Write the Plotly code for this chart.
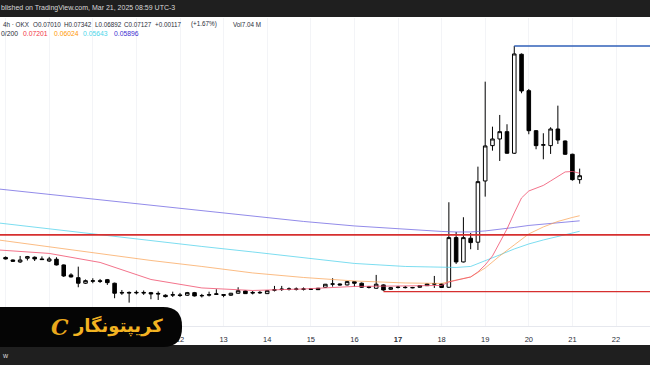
import plotly.graph_objects as go
import pandas as pd

# ---------------- data ----------------
candle_start = "2025-03-08 00:00"
n_candles = 80
opens = [0.05056, 0.05002, 0.04961, 0.05039, 0.05060, 0.05024, 0.04981, 0.05017, 0.04899, 0.04698,
         0.04644, 0.04537, 0.04574, 0.04584, 0.04605, 0.04537, 0.04365, 0.04365, 0.04356, 0.04365,
         0.04361, 0.04347, 0.04314, 0.04316, 0.04320, 0.04314, 0.04361, 0.04310, 0.04316, 0.04329,
         0.04325, 0.04314, 0.04350, 0.04392, 0.04365, 0.04356, 0.04343, 0.04406, 0.04419, 0.04425,
         0.04429, 0.04423, 0.04429, 0.04442, 0.04461, 0.04520, 0.04523, 0.04505, 0.04567, 0.04537,
         0.04457, 0.04442, 0.04505, 0.04423, 0.04457, 0.04461, 0.04457, 0.04461, 0.04491, 0.04520,
         0.04523, 0.04461, 0.05495, 0.04961, 0.05481, 0.05390, 0.06971, 0.08086, 0.08316, 0.08575,
         0.07832, 0.11870, 0.10186, 0.08610, 0.08100, 0.08086, 0.08672, 0.08246, 0.07799, 0.07010]
highs = [0.05077, 0.05013, 0.05088, 0.05088, 0.05077, 0.05077, 0.05067, 0.05060, 0.04909, 0.04731,
         0.04864, 0.04609, 0.04633, 0.04619, 0.04619, 0.04548, 0.04410, 0.04383, 0.04401, 0.04401,
         0.04374, 0.04383, 0.04329, 0.04379, 0.04356, 0.04374, 0.04374, 0.04338, 0.04379, 0.04423,
         0.04329, 0.04356, 0.04461, 0.04401, 0.04392, 0.04392, 0.04405, 0.04486, 0.04486, 0.04457,
         0.04457, 0.04457, 0.04438, 0.04448, 0.04523, 0.04633, 0.04533, 0.04576, 0.04576, 0.04552,
         0.04486, 0.04698, 0.04514, 0.04467, 0.04486, 0.04486, 0.04467, 0.04499, 0.04533, 0.04678,
         0.04533, 0.06375, 0.05627, 0.05986, 0.05604, 0.07403, 0.10579, 0.08757, 0.09199, 0.08846,
         0.12291, 0.11910, 0.10259, 0.08635, 0.08518, 0.08735, 0.09565, 0.08263, 0.07816, 0.07342]
lows = [0.05013, 0.04961, 0.04940, 0.04992, 0.04981, 0.05002, 0.04961, 0.04889, 0.04658, 0.04648,
        0.04461, 0.04523, 0.04537, 0.04542, 0.04505, 0.04260, 0.04320, 0.04182, 0.04329, 0.04320,
        0.04242, 0.04229, 0.04274, 0.04283, 0.04283, 0.04301, 0.04292, 0.04274, 0.04292, 0.04320,
        0.04278, 0.04301, 0.04341, 0.04338, 0.04329, 0.04338, 0.04338, 0.04383, 0.04392, 0.04401,
        0.04401, 0.04401, 0.04410, 0.04410, 0.04448, 0.04472, 0.04495, 0.04495, 0.04472, 0.04448,
        0.04438, 0.04433, 0.04397, 0.04410, 0.04438, 0.04438, 0.04442, 0.04452, 0.04486, 0.04448,
        0.04448, 0.04448, 0.04920, 0.04951, 0.05233, 0.05217, 0.06527, 0.07917, 0.07582, 0.07816,
        0.07809, 0.10076, 0.08482, 0.07964, 0.07636, 0.07809, 0.08144, 0.07777, 0.06980, 0.06892]
closes = [0.05024, 0.04975, 0.05002, 0.05073, 0.05024, 0.05011, 0.05024, 0.04899, 0.04678, 0.04658,
          0.04537, 0.04586, 0.04584, 0.04574, 0.04548, 0.04350, 0.04356, 0.04356, 0.04365, 0.04356,
          0.04338, 0.04338, 0.04289, 0.04323, 0.04310, 0.04361, 0.04301, 0.04305, 0.04323, 0.04338,
          0.04314, 0.04350, 0.04397, 0.04343, 0.04356, 0.04365, 0.04397, 0.04414, 0.04425, 0.04429,
          0.04423, 0.04429, 0.04423, 0.04416, 0.04518, 0.04523, 0.04505, 0.04567, 0.04537, 0.04461,
          0.04467, 0.04518, 0.04410, 0.04453, 0.04463, 0.04455, 0.04452, 0.04491, 0.04523, 0.04527,
          0.04457, 0.05495, 0.04961, 0.05495, 0.05381, 0.06951, 0.08076, 0.08316, 0.08575, 0.07832,
          0.11885, 0.10173, 0.08610, 0.08086, 0.08117, 0.08672, 0.08280, 0.07799, 0.07010, 0.07127]

ma_times = ["2025-03-07 20:00", "2025-03-09 00:00", "2025-03-10 04:00", "2025-03-11 08:00",
            "2025-03-12 12:00", "2025-03-13 16:00", "2025-03-14 20:00", "2025-03-16 00:00",
            "2025-03-17 04:00", "2025-03-18 00:00", "2025-03-18 08:00", "2025-03-18 16:00",
            "2025-03-19 00:00", "2025-03-19 08:00", "2025-03-19 16:00", "2025-03-20 00:00",
            "2025-03-20 08:00", "2025-03-20 16:00", "2025-03-21 00:00", "2025-03-21 04:00"]
ma200 = [0.06741, 0.06588, 0.06436, 0.06290, 0.06146, 0.06006, 0.05881, 0.05771, 0.05686, 0.05639,
         0.05627, 0.05627, 0.05651, 0.05686, 0.05735, 0.05783, 0.05820, 0.05856, 0.05893, 0.05896]
ma100 = [0.05844, 0.05698, 0.05558, 0.05430, 0.05295, 0.05174, 0.05045, 0.04930, 0.04868, 0.04848,
         0.04848, 0.04868, 0.04981, 0.05110, 0.05239, 0.05351, 0.05441, 0.05523, 0.05600, 0.05643]
ma50 = [0.05441, 0.05284, 0.05131, 0.04992, 0.04868, 0.04737, 0.04648, 0.04580, 0.04542, 0.04533,
        0.04599, 0.04658, 0.04837, 0.05088, 0.05329, 0.05581, 0.05747, 0.05881, 0.05981, 0.06024]
ma20_times = ["2025-03-07 20:00", "2025-03-09 00:00", "2025-03-10 04:00", "2025-03-11 08:00",
              "2025-03-12 12:00", "2025-03-13 16:00", "2025-03-14 20:00", "2025-03-16 00:00",
              "2025-03-17 04:00", "2025-03-18 00:00", "2025-03-18 04:00", "2025-03-18 08:00",
              "2025-03-18 12:00", "2025-03-18 16:00", "2025-03-18 20:00", "2025-03-19 00:00",
              "2025-03-19 04:00", "2025-03-19 08:00", "2025-03-19 12:00", "2025-03-19 16:00",
              "2025-03-19 20:00", "2025-03-20 00:00", "2025-03-20 04:00", "2025-03-20 08:00",
              "2025-03-20 12:00", "2025-03-20 16:00", "2025-03-20 20:00", "2025-03-21 00:00",
              "2025-03-21 04:00"]
ma20 = [0.05217, 0.05142, 0.04951, 0.04609, 0.04448, 0.04401, 0.04429, 0.04476, 0.04486, 0.04495,
        0.04561, 0.04590, 0.04629, 0.04658, 0.04757, 0.04899, 0.05088, 0.05374, 0.05698, 0.06095,
        0.06491, 0.06684, 0.06755, 0.06842, 0.06971, 0.07105, 0.07240, 0.07255, 0.07201]

level_prices = [0.05558, 0.04379, 0.12291]
level_starts = ["2025-03-07 00:00", "2025-03-16 16:00", "2025-03-19 16:00"]
level_end = "2025-03-24 00:00"

tick_dates = ["2025-03-%02d" % d for d in range(8, 23)]
tick_labels = [str(d) for d in range(8, 23)]

# ---------------- layout helpers ----------------
W, H = 650, 365
ML, MR, MT, MB = 0, 0, 18, 39
PW, PH = W - ML - MR, H - MT - MB


def px(x):
    return (x - ML) / PW


def py(y):
    return (H - MB - y) / PH


times = pd.date_range(candle_start, periods=n_candles, freq="4h")

fig = go.Figure()

ma_styles = [
    (ma_times, ma200, "rgba(110,100,225,0.75)"),
    (ma_times, ma100, "rgba(80,210,235,0.75)"),
    (ma_times, ma50, "rgba(250,160,80,0.7)"),
    (ma20_times, ma20, "rgba(240,80,110,0.8)"),
]
for t, v, c in ma_styles:
    fig.add_trace(go.Scatter(x=t, y=v, mode="lines", line=dict(color=c, width=1),
                             hoverinfo="skip"))

level_styles = [("#d62f2f", 1.6), ("#d62f2f", 1.4), ("#3061b8", 1.4)]
for p, s, (c, w) in zip(level_prices, level_starts, level_styles):
    fig.add_trace(go.Scatter(x=[s, level_end], y=[p, p], mode="lines",
                             line=dict(color=c, width=w), hoverinfo="skip"))

fig.add_trace(go.Candlestick(
    x=times, open=opens, high=highs, low=lows, close=closes,
    increasing=dict(line=dict(color="#000000", width=1), fillcolor="#ffffff"),
    decreasing=dict(line=dict(color="#000000", width=1), fillcolor="#000000"),
    whiskerwidth=0, hoverinfo="skip"))

ticktext = ["<b>%s</b>" % s if s == "17" else s for s in tick_labels]

fig.update_layout(
    width=W, height=H, margin=dict(l=ML, r=MR, t=MT, b=MB),
    paper_bgcolor="white", plot_bgcolor="white", showlegend=False,
    xaxis=dict(type="date", range=["2025-03-07 20:55", "2025-03-22 18:43"],
               rangeslider=dict(visible=False), tickvals=tick_dates, ticktext=ticktext,
               showgrid=True, gridcolor="#f3f4f7", gridwidth=1, ticks="",
               tickfont=dict(size=7.5, color="#2a2e39", family="Liberation Sans"),
               showline=True, linecolor="#e6e8ee", zeroline=False, ticklabelstandoff=6),
    yaxis=dict(type="log", range=[-1.42126, -0.85943], showticklabels=False,
               showgrid=False, zeroline=False),
)

bar_color = "#1f1f1f"
shapes = [
    dict(type="rect", xref="paper", yref="paper", x0=0, x1=1, y0=py(17), y1=py(0),
         fillcolor=bar_color, line=dict(width=0), layer="above"),
    dict(type="rect", xref="paper", yref="paper", x0=0, x1=1, y0=py(H), y1=py(345),
         fillcolor=bar_color, line=dict(width=0), layer="above"),
]
# logo badge (rounded right side)
x0, x1, yt, yb, r = -20, 182, 307, 347, 19
path = ("M %f,%f L %f,%f Q %f,%f %f,%f L %f,%f Q %f,%f %f,%f L %f,%f Z" % (
    px(x0), py(yt), px(x1 - r), py(yt), px(x1), py(yt), px(x1), py(yt + r),
    px(x1), py(yb - r), px(x1), py(yb), px(x1 - r), py(yb), px(x0), py(yb)))
shapes.append(dict(type="path", xref="paper", yref="paper", path=path,
                   fillcolor="#050505", line=dict(width=0), layer="above"))
fig.update_layout(shapes=shapes)

ann = []


def text(x, y, s, color, size=7, anchor="left", family="Liberation Sans"):
    ann.append(dict(x=px(x), y=py(y), xref="paper", yref="paper", text=s, showarrow=False,
                    xanchor=anchor, yanchor="middle",
                    font=dict(size=size, color=color, family=family)))


text(-1, 8.5, "blished on TradingView.com, Mar 21, 2025 08:59 UTC-3", "#d8d8d8", 7)
dark = "#2a2e39"
s1 = 6.3
text(1, 24.5, "4h · OKX", dark, s1)
text(31, 24.5, "O0.07010", dark, s1)
text(62, 24.5, "H0.07342", dark, s1)
text(93, 24.5, "L0.06892", dark, s1)
text(122, 24.5, "C0.07127", dark, s1)
text(153, 24.5, "+0.00117", dark, s1)
text(189, 24.5, "(+1.67%)", dark, s1)
text(231, 24.5, "Vol7.04 M", dark, s1)
text(-1, 33.5, "0/200", dark, 6.8)
text(21, 33.5, "0.07201", "#f23645", 6.8)
text(52, 33.5, "0.06024", "#ff9800", 6.8)
text(81, 33.5, "0.05643", "#4dd6ea", 6.8)
text(112, 33.5, "0.05896", "#3d2fd0", 6.8)
text(0, 355, "w", "#d8d8d8", 7)
text(118, 326, "<b>کریپتونگار</b>", "#f2b322", 18, "center", "DejaVu Sans")
text(60, 327, "<b><i>C</i></b>", "#e9a81c", 22, "center", "DejaVu Serif")
fig.update_layout(annotations=ann)

fig.write_html("out.html", config={"displayModeBar": False},
               post_script="document.body.style.margin='0';document.body.style.overflow='hidden';")
